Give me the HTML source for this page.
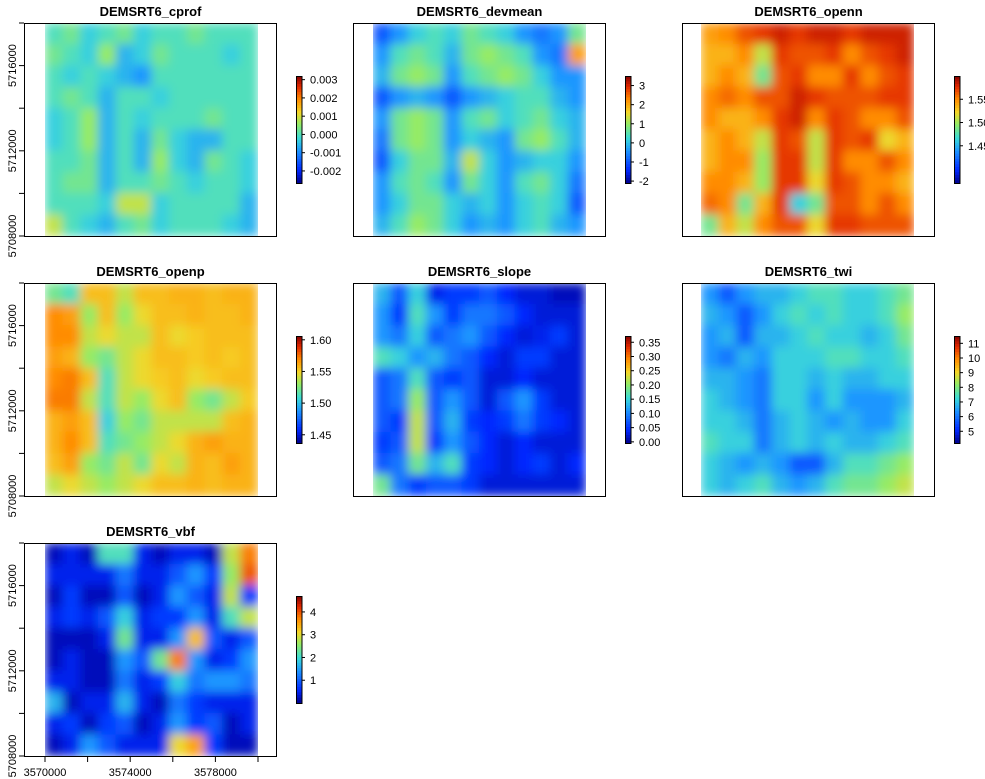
<!DOCTYPE html>
<html><head><meta charset="utf-8">
<style>
html,body{margin:0;padding:0;background:#fff;overflow:hidden;width:985px;height:779px}
svg{display:block}
text{font-family:"Liberation Sans",Arial,sans-serif;fill:#000}
.ttl{font-size:13px;font-weight:bold}
.tk{font-size:11px}
</style></head>
<body>
<svg id="fig" width="985" height="779" xmlns="http://www.w3.org/2000/svg">
<defs>
<filter id="sm" x="0" y="0" width="1" height="1"><feGaussianBlur stdDeviation="5" edgeMode="duplicate"/></filter>
</defs>
</svg>
<script>
// Normalized raster grids (12 cols x 10 rows), 0 = low end of colour scale, 1 = high end
const cprofGrid=[
[.45,.5,.4,.45,.5,.4,.45,.45,.5,.45,.45,.45],
[.5,.45,.4,.55,.35,.4,.5,.45,.45,.45,.4,.45],
[.45,.4,.45,.4,.35,.3,.45,.45,.45,.45,.45,.45],
[.45,.5,.45,.35,.45,.45,.4,.45,.45,.45,.45,.45],
[.4,.45,.55,.35,.45,.4,.45,.45,.45,.5,.45,.45],
[.4,.45,.55,.35,.45,.35,.5,.4,.35,.35,.45,.45],
[.45,.45,.5,.35,.45,.35,.55,.4,.35,.5,.45,.4],
[.45,.5,.5,.35,.45,.45,.5,.45,.4,.45,.45,.4],
[.45,.45,.45,.4,.6,.6,.4,.45,.45,.45,.45,.35],
[.6,.45,.4,.35,.45,.5,.4,.45,.45,.45,.4,.35]];
const devmeanGrid=[
[.2,.3,.4,.45,.4,.5,.45,.4,.3,.25,.3,.5],
[.3,.45,.5,.45,.35,.5,.55,.5,.45,.3,.25,.75],
[.35,.5,.55,.5,.3,.45,.5,.55,.5,.4,.3,.3],
[.2,.3,.35,.3,.2,.3,.35,.4,.45,.45,.35,.3],
[.3,.5,.55,.5,.3,.45,.5,.4,.45,.5,.4,.35],
[.25,.5,.55,.5,.3,.4,.35,.3,.5,.55,.45,.35],
[.2,.4,.5,.5,.35,.6,.4,.3,.35,.4,.4,.3],
[.3,.45,.5,.45,.3,.5,.4,.3,.45,.5,.4,.25],
[.3,.4,.5,.5,.4,.35,.4,.3,.4,.45,.4,.2],
[.35,.45,.55,.5,.4,.3,.35,.3,.4,.45,.35,.3]];
const opennGrid=[
[.75,.78,.85,.88,.92,.88,.92,.92,.88,.92,.92,.92],
[.72,.72,.78,.6,.88,.85,.85,.88,.78,.85,.88,.92],
[.72,.78,.72,.5,.85,.88,.78,.78,.88,.78,.85,.88],
[.78,.82,.78,.85,.85,.92,.88,.85,.85,.85,.88,.88],
[.78,.72,.72,.78,.88,.92,.78,.88,.85,.78,.78,.85],
[.72,.78,.72,.6,.88,.85,.6,.88,.85,.88,.65,.72],
[.72,.78,.78,.55,.88,.88,.6,.88,.78,.78,.85,.78],
[.78,.78,.72,.55,.88,.88,.65,.88,.85,.78,.78,.72],
[.82,.78,.5,.72,.88,.4,.5,.85,.85,.78,.85,.78],
[.5,.72,.6,.78,.85,.85,.65,.88,.88,.85,.85,.85]];
const openpGrid=[
[.5,.45,.7,.7,.6,.7,.7,.72,.72,.7,.72,.72],
[.78,.75,.55,.7,.55,.65,.7,.7,.72,.7,.7,.72],
[.78,.78,.6,.65,.6,.6,.7,.65,.68,.7,.7,.7],
[.75,.72,.55,.5,.6,.65,.7,.7,.68,.7,.68,.7],
[.78,.8,.7,.45,.6,.65,.68,.7,.65,.68,.7,.7],
[.8,.8,.6,.45,.6,.55,.65,.7,.55,.5,.6,.68],
[.72,.75,.7,.4,.55,.5,.6,.6,.6,.6,.7,.72],
[.72,.78,.7,.45,.5,.55,.6,.65,.72,.75,.72,.72],
[.7,.75,.55,.5,.6,.5,.65,.6,.72,.7,.75,.72],
[.6,.65,.6,.55,.6,.65,.7,.7,.72,.7,.72,.72]];
const slopeGrid=[
[.35,.2,.4,.1,.15,.15,.2,.12,.08,.08,.05,.05],
[.3,.15,.45,.3,.15,.25,.25,.2,.12,.08,.08,.08],
[.3,.25,.4,.2,.25,.3,.2,.12,.08,.1,.15,.08],
[.45,.4,.3,.35,.25,.2,.12,.08,.15,.15,.08,.08],
[.2,.25,.45,.2,.15,.2,.08,.08,.12,.08,.08,.08],
[.2,.25,.55,.2,.3,.2,.08,.2,.3,.15,.08,.08],
[.2,.15,.6,.2,.35,.15,.12,.15,.25,.15,.12,.08],
[.15,.2,.6,.15,.3,.2,.12,.08,.12,.08,.08,.08],
[.2,.25,.5,.35,.45,.15,.12,.08,.12,.15,.08,.12],
[.5,.25,.15,.2,.2,.15,.08,.08,.08,.08,.08,.08]];
const twiGrid=[
[.3,.2,.3,.35,.35,.4,.45,.45,.4,.4,.45,.5],
[.35,.3,.2,.3,.4,.45,.4,.45,.4,.4,.45,.55],
[.3,.35,.2,.35,.35,.4,.45,.4,.4,.35,.4,.5],
[.3,.25,.35,.3,.4,.4,.4,.45,.45,.4,.4,.45],
[.35,.35,.3,.25,.4,.4,.35,.4,.35,.35,.4,.4],
[.4,.35,.3,.25,.4,.4,.3,.4,.3,.3,.3,.35],
[.4,.4,.35,.25,.35,.4,.35,.3,.35,.3,.3,.4],
[.45,.4,.4,.25,.35,.4,.35,.4,.35,.35,.4,.45],
[.4,.35,.3,.35,.3,.2,.2,.35,.45,.45,.5,.55],
[.4,.35,.4,.45,.35,.3,.35,.45,.5,.5,.55,.6]];
const vbfGrid=[
[.05,.1,.05,.45,.45,.1,.05,.1,.1,.05,.6,.8],
[.1,.1,.1,.1,.25,.1,.1,.2,.3,.15,.55,.85],
[.05,.15,.05,.05,.2,.05,.1,.3,.2,.1,.6,.15],
[.1,.15,.1,.2,.4,.1,.15,.15,.3,.1,.45,.6],
[.05,.05,.05,.1,.5,.1,.1,.3,.7,.2,.1,.2],
[.05,.1,.05,.05,.3,.2,.5,.8,.3,.1,.15,.3],
[.1,.1,.05,.05,.25,.1,.15,.4,.25,.3,.3,.25],
[.35,.05,.1,.1,.35,.1,.05,.25,.15,.1,.1,.1],
[.1,.15,.05,.15,.2,.05,.1,.3,.15,.2,.05,.1],
[.05,.1,.3,.2,.1,.1,.1,.65,.75,.15,.05,.05]];

// Colour-bar tick labels and their values, plus colour-bar ranges [min,max]
const cprofTicks=["0.003","0.002","0.001","0.000","-0.001","-0.002"], cprofVals=[0.003,0.002,0.001,0,-0.001,-0.002], cprofRange=[-0.00266,0.0032];
const devmeanTicks=["3","2","1","0","-1","-2"], devmeanVals=[3,2,1,0,-1,-2], devmeanRange=[-2.1,3.5];
const opennTicks=["1.55","1.50","1.45"], opennVals=[1.55,1.50,1.45], opennRange=[1.37,1.60];
const openpTicks=["1.60","1.55","1.50","1.45"], openpVals=[1.60,1.55,1.50,1.45], openpRange=[1.437,1.606];
const slopeTicks=["0.35","0.30","0.25","0.20","0.15","0.10","0.05","0.00"], slopeVals=[.35,.30,.25,.20,.15,.10,.05,0], slopeRange=[-0.004,0.372];
const twiTicks=["11","10","9","8","7","6","5"], twiVals=[11,10,9,8,7,6,5], twiRange=[4.2,11.5];
const vbfTicks=["4","3","2","1"], vbfVals=[4,3,2,1], vbfRange=[0,4.7];
const yTickVals=[5718000,5716000,5714000,5712000,5710000,5708000];
const yLabelVals=[5716000,5712000,5708000];
const xTickVals=[3570000,3572000,3574000,3576000,3578000,3580000];
const xLabelVals=[3570000,3574000,3578000];

const NS="http://www.w3.org/2000/svg";
const svg=document.getElementById('fig');
function el(t,a,p){const e=document.createElementNS(NS,t);for(const k in a)e.setAttribute(k,a[k]);(p||svg).appendChild(e);return e;}
const stops=[[0,[0,0,139]],[.12,[0,40,255]],[.3,[30,150,255]],[.42,[60,220,215]],[.55,[150,235,100]],[.66,[245,215,40]],[.78,[255,140,0]],[.9,[225,40,0]],[1,[130,0,0]]];
function cmap(v){v=Math.max(0,Math.min(1,v));for(let i=1;i<stops.length;i++){if(v<=stops[i][0]){const a=stops[i-1],b=stops[i],t=(v-a[0])/(b[0]-a[0]);const c=a[1].map((x,j)=>Math.round(x+(b[1][j]-x)*t));return `rgb(${c})`;}}return 'rgb(130,0,0)';}

const panels=[
 {key:'cprof',grid:cprofGrid,ticks:cprofTicks,vals:cprofVals,range:cprofRange,fx:24,fy:23,ix:45,iw:213,cb:296,yax:true},
 {key:'devmean',grid:devmeanGrid,ticks:devmeanTicks,vals:devmeanVals,range:devmeanRange,fx:353,fy:23,ix:373,iw:213,cb:625},
 {key:'openn',grid:opennGrid,ticks:opennTicks,vals:opennVals,range:opennRange,fx:682,fy:23,ix:701,iw:213,cb:954},
 {key:'openp',grid:openpGrid,ticks:openpTicks,vals:openpVals,range:openpRange,fx:24,fy:283,ix:45,iw:213,cb:296,yax:true},
 {key:'slope',grid:slopeGrid,ticks:slopeTicks,vals:slopeVals,range:slopeRange,fx:353,fy:283,ix:373,iw:213,cb:625},
 {key:'twi',grid:twiGrid,ticks:twiTicks,vals:twiVals,range:twiRange,fx:682,fy:283,ix:701,iw:213,cb:954},
 {key:'vbf',grid:vbfGrid,ticks:vbfTicks,vals:vbfVals,range:vbfRange,fx:24,fy:543,ix:45,iw:213,cb:296,yax:true,xax:true}
];
const FW=253,FH=213;
panels.forEach((p,pi)=>{
 const g=el('g',{});
 
 
 const t=el('text',{x:p.fx+FW/2,y:p.fy-7,'text-anchor':'middle',class:'ttl'},g);
 t.textContent='DEMSRT6_'+p.key;
 
 
 const cp=el('clipPath',{id:'cp'+pi},g);
 el('rect',{x:p.ix,y:p.fy,width:p.iw,height:FH},cp);
 const rg=el('g',{'clip-path':'url(#cp'+pi+')'},g);
 const ig=el('g',{filter:'url(#sm)'},rg);
 
 
 const rows=p.grid.length,cols=p.grid[0].length,cw=p.iw/cols,ch=FH/rows;
 p.grid.forEach((row,r)=>row.forEach((v,c)=>{
  const cell=el('rect',{x:p.ix+c*cw-0.3,y:p.fy+r*ch-0.3,width:cw+0.6,height:ch+0.6,fill:cmap(v)},ig);
  
  
 }));
 const fr=el('rect',{x:p.fx+0.5,y:p.fy+0.5,width:FW-1,height:FH,fill:'none',stroke:'#000','stroke-width':1},g);
 
 
 const cbTop=p.fy+53,cbBot=p.fy+160,cbH=cbBot-cbTop,n=40;
 const cbg=el('g',{},g);
 
 
 for(let i=0;i<n;i++){el('rect',{x:p.cb,y:cbTop+i*cbH/n,width:6,height:cbH/n+0.5,fill:cmap(1-(i+0.5)/n)},cbg);}
 el('rect',{x:p.cb+0.5,y:cbTop+0.5,width:5.5,height:cbH,fill:'none',stroke:'#000','stroke-width':1},cbg);
 const vy=v=>cbBot-(v-p.range[0])/(p.range[1]-p.range[0])*cbH;
 p.vals.forEach((v,i)=>{
  const y=vy(v);
  el('line',{x1:p.cb+6,x2:p.cb+9,y1:y,y2:y,stroke:'#000'},cbg);
  const tl=el('text',{x:p.cb+14,y:y+4,class:'tk'},cbg);
  tl.textContent=p.ticks[i];
  
  
 });
 const yS=v=>p.fy+FH-(v-5708000)/10000*FH;
 if(p.yax){
  yTickVals.forEach(v=>{el('line',{x1:p.fx-5,x2:p.fx,y1:yS(v),y2:yS(v),stroke:'#000'},g);});
  yLabelVals.forEach(v=>{
   const y=yS(v);
   const tl=el('text',{x:0,y:0,class:'tk','text-anchor':'middle',transform:`translate(16,${y}) rotate(-90)`},g);
   tl.textContent=v;
   
   
  });
 }
 if(p.xax){
  const xS=v=>p.ix+(v-3570000)/10000*p.iw;
  const by=p.fy+FH;
  xTickVals.forEach(v=>{el('line',{x1:xS(v),x2:xS(v),y1:by,y2:by+6,stroke:'#000'},g);});
  xLabelVals.forEach(v=>{
   const tl=el('text',{x:xS(v),y:by+20,class:'tk','text-anchor':'middle'},g);
   tl.textContent=v;
   
   
  });
 }
});
</script>
</body></html>
